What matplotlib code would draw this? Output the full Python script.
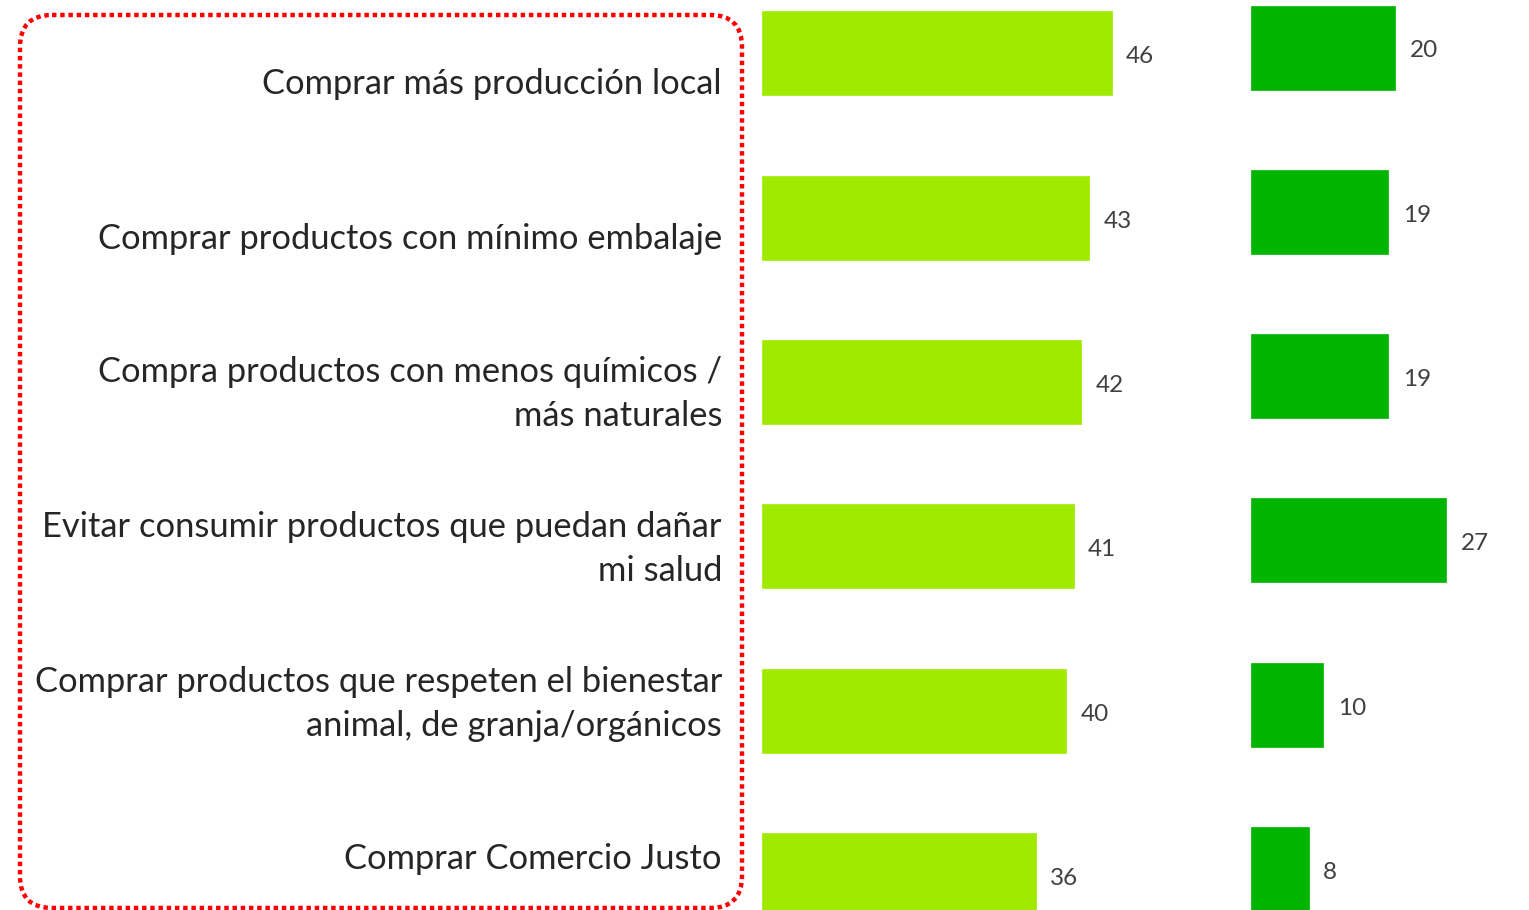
import matplotlib
matplotlib.use("Agg")
import matplotlib.pyplot as plt
from matplotlib.patches import FancyBboxPatch

plt.rcParams['font.family'] = ['Lato', 'DejaVu Sans']

# 数据
labels = [
    "Comprar más producción local",
    "Comprar productos con mínimo embalaje",
    "Compra productos con menos químicos /\nmás naturales",
    "Evitar consumir productos que puedan dañar\nmi salud",
    "Comprar productos que respeten el bienestar\nanimal, de granja/orgánicos",
    "Comprar Comercio Justo",
]
values_left = [46, 43, 42, 41, 40, 36]
values_right = [20, 19, 19, 27, 10, 8]

light_green = '#A0EA00'
dark_green = '#00B400'
text_color = '#262626'
value_color = '#404040'

W, H = 1529, 910
fig = plt.figure(figsize=(W / 100, H / 100), dpi=100)


def px_axes(x0, x1):
    # 按像素位置建坐标轴，纵向铺满整张图
    return fig.add_axes([x0 / W, 0, (x1 - x0) / W, 1])


def draw_bars(ax, values, color, first_center, xmax):
    step = 164.3
    n = len(values)
    ax.set_ylim((H - first_center) / step, -first_center / step)
    ax.set_xlim(0, xmax)
    ypos = list(range(n))
    ax.barh(ypos, values, height=84 / step, color=color, edgecolor=color,
            linewidth=0.5)
    for y, v in zip(ypos, values):
        ax.annotate(str(v), (v, y), xytext=(10.5, -2.5), textcoords='offset points',
                    ha='left', va='center', fontsize=17.5, color=value_color)
    ax.axis('off')


# 左侧浅绿色柱
ax1 = px_axes(762, 762 + 50 * 7.6)
draw_bars(ax1, values_left, light_green, 53.5, 50)

# 右侧深绿色柱
ax2 = px_axes(1251, 1251 + 35 * 7.22)
draw_bars(ax2, values_right, dark_green, 47.5, 35)

# 类别文字
axl = px_axes(0, 722)
lstep = 155
axl.set_xlim(0, 1)
axl.set_ylim((H - 84) / lstep, -84 / lstep)
for i, lab in enumerate(labels):
    axl.text(1, i, lab, ha='right', va='center', fontsize=24.8,
             color=text_color, linespacing=1.45)
axl.axis('off')

# 红色虚线圆角框
axb = fig.add_axes([0, 0, 1, 1])
axb.set_xlim(0, W)
axb.set_ylim(H, 0)
axb.axis('off')
box = FancyBboxPatch((20, 15), 722, 893, boxstyle="round,pad=0,rounding_size=32",
                     fill=False, edgecolor='#FF0000', linewidth=3.2,
                     linestyle=(0, (1, 0.85)), clip_on=False)
box.set_capstyle('butt')
axb.add_patch(box)

fig.savefig("out.png", dpi=100)
